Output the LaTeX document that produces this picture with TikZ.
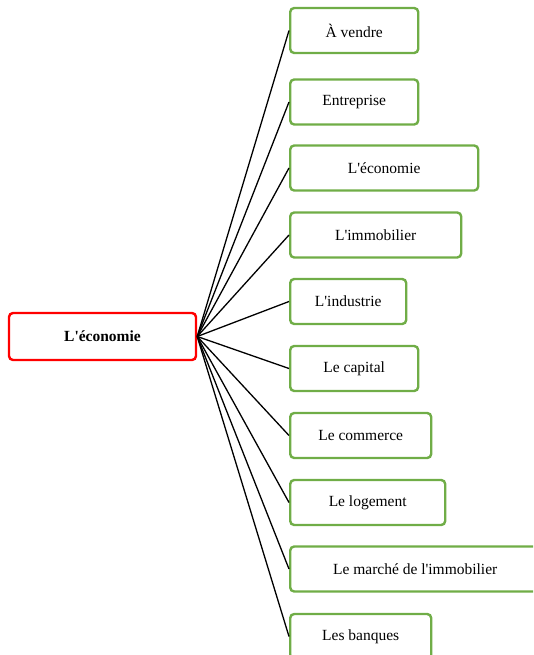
\documentclass[tikz,border=0pt]{standalone}
\usepackage{fontspec}
\setmainfont{Liberation Serif}
\newcommand{\apos}{\textquotesingle}
\definecolor{vertfeuille}{RGB}{112,173,71}
\definecolor{rougeracine}{RGB}{255,0,0}
\tikzset{
	racine/.style={draw=rougeracine, line width=2.4pt, rounded corners=4pt, minimum width=187pt, minimum height=47pt, font=\fontsize{15.5}{18}\selectfont\bfseries},
	feuille/.style={draw=vertfeuille, line width=2.4pt, rounded corners=4pt, minimum height=45pt, anchor=west, font=\fontsize{15.5}{18}\selectfont},
	lien/.style={black, line width=1.3pt}
}
\begin{document}
\begin{tikzpicture}[x=1pt, y=-1pt]
		\useasboundingbox (0,0) rectangle (533,655);
		\clip (0,0) rectangle (533,655);
		\node[racine] (eco) at (102.5,336.5) {L\apos économie};
		\node[feuille, minimum width=128pt] (vendre) at (289,30.5) {À vendre};
		\node[feuille, minimum width=128pt] (entreprise) at (289,102) {Entreprise};
		\node[feuille, minimum width=188pt] (economie) at (289,168) {L\apos économie};
		\node[feuille, minimum width=171pt] (immobilier) at (289,235) {L\apos immobilier};
		\node[feuille, minimum width=116pt] (industrie) at (289,301.5) {L\apos industrie};
		\node[feuille, minimum width=128pt] (capital) at (289,368.5) {Le capital};
		\node[feuille, minimum width=141pt] (commerce) at (289,435.5) {Le commerce};
		\node[feuille, minimum width=155pt] (logement) at (289,502.5) {Le logement};
		\node[feuille, minimum width=250pt] (marche) at (289,569) {Le marché de l\apos immobilier};
		\node[feuille, minimum width=141pt] (banques) at (289,636.5) {Les banques};
		\foreach \f in {vendre,entreprise,economie,immobilier,industrie,capital,commerce,logement,marche,banques}
			\draw[lien] (eco.east) -- (\f.west);
	\end{tikzpicture}
\end{document}
